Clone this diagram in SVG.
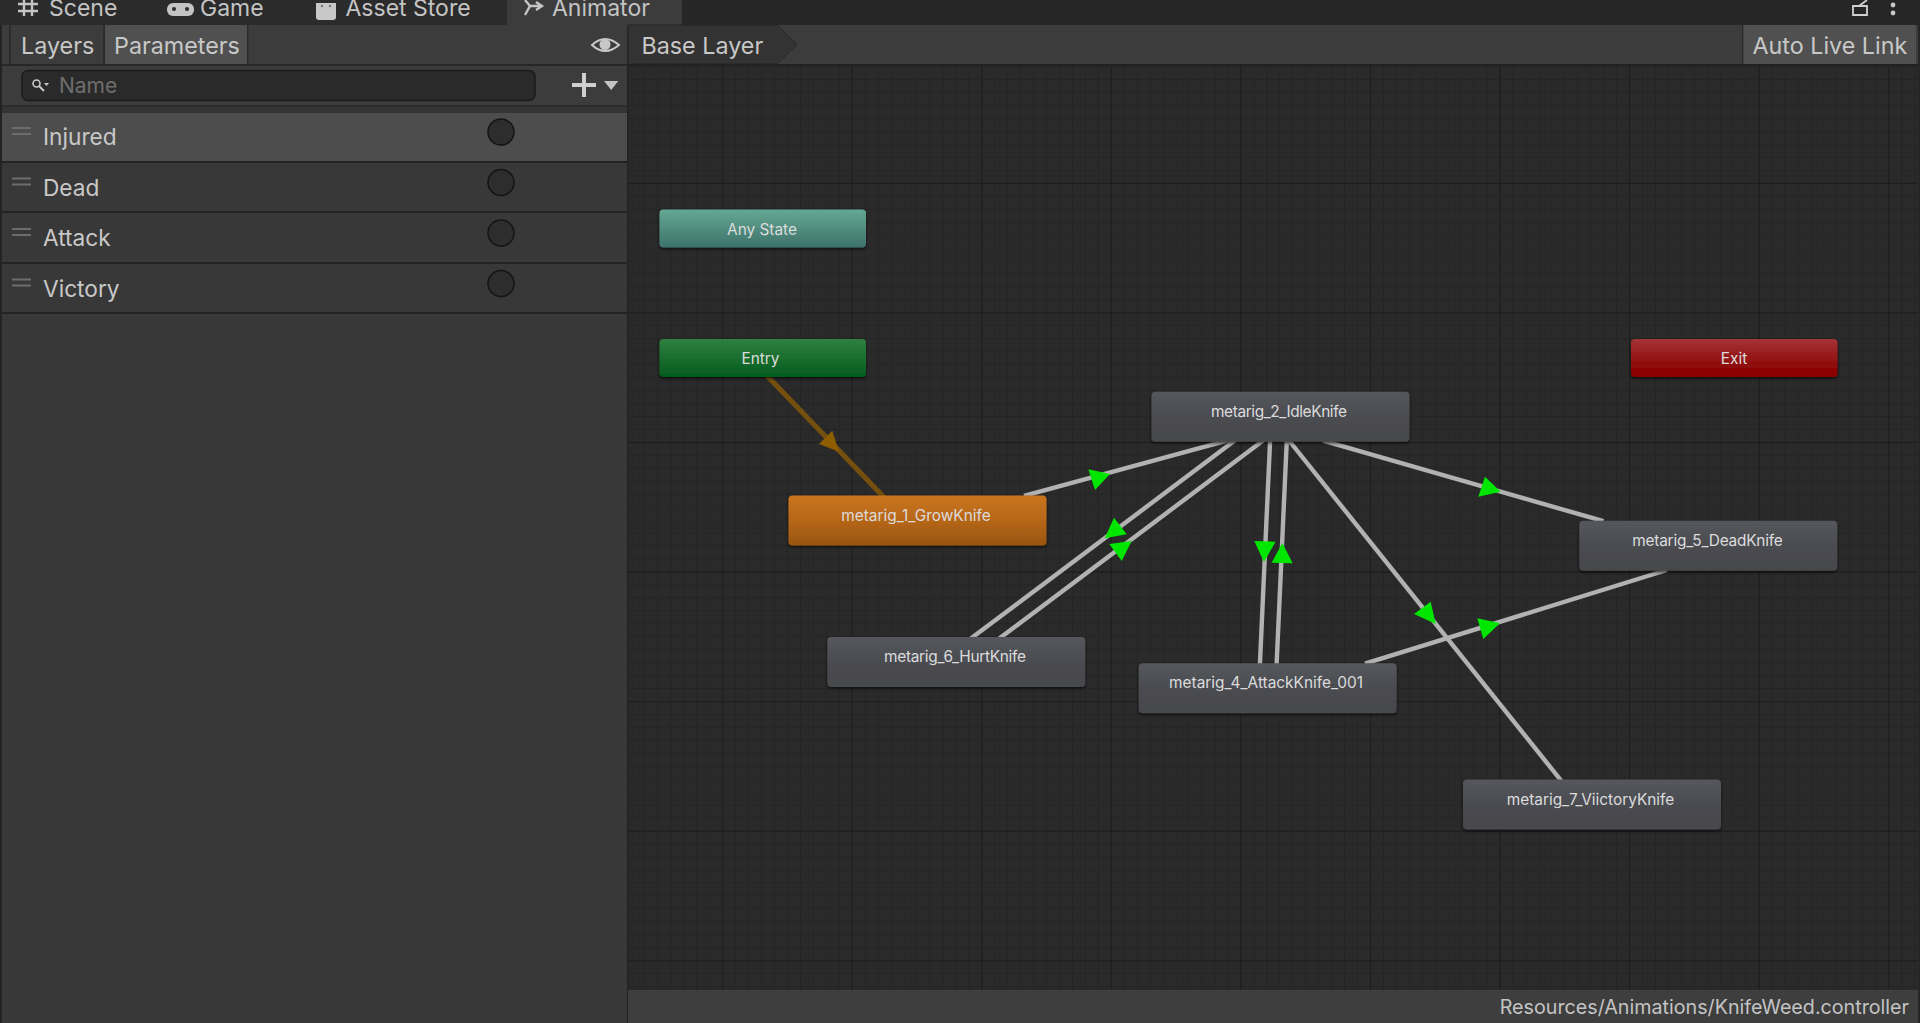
<svg xmlns="http://www.w3.org/2000/svg" width="1920" height="1023" viewBox="0 0 1920 1023">
<style>
text{font-family:Inter,"Noto Sans","Liberation Sans",sans-serif}
.ui{fill:#c8c8c8;font-size:23.3px}
.tab{fill:#c4c4c4;font-size:23px}
.row{fill:#c8c8c8;font-size:22.7px}
.nl{fill:#dcdcdc;font-size:15.4px;text-anchor:middle}
.edge{stroke:#b2b2b2;stroke-width:4.4;fill:none;filter:url(#soft)}
.edge-o{stroke:#75500f;stroke-width:5;fill:none;filter:url(#soft)}
.ah{fill:#00e600}
.hdl{stroke:#6c6c6c;stroke-width:2}
.dot{fill:#2d2d2d;stroke:#141414;stroke-width:1.5}
.sep{fill:#232323}
.ic{stroke:#c4c4c4;fill:none;stroke-width:2.4}
</style>
<defs>
<pattern id="minor" patternUnits="userSpaceOnUse" x="722.2" y="53.2" width="12.955" height="12.955">
<path d="M0 0V12.955M0 0H12.955" stroke="#202020" stroke-width="1" fill="none"/>
</pattern>
<pattern id="major" patternUnits="userSpaceOnUse" x="722.2" y="53.2" width="129.55" height="129.6">
<path d="M0 0V129.6M0 0H129.55" stroke="#191919" stroke-width="1.4" fill="none"/>
</pattern>
<linearGradient id="gN" x1="0" y1="0" x2="0" y2="1"><stop offset="0" stop-color="#55575c"/><stop offset=".55" stop-color="#494b50"/><stop offset="1" stop-color="#46484c"/></linearGradient>
<linearGradient id="gO" x1="0" y1="0" x2="0" y2="1"><stop offset="0" stop-color="#c97420"/><stop offset=".4" stop-color="#bb6a1a"/><stop offset="1" stop-color="#99550f"/></linearGradient>
<linearGradient id="gA" x1="0" y1="0" x2="0" y2="1"><stop offset="0" stop-color="#65a893"/><stop offset="1" stop-color="#3d726b"/></linearGradient>
<linearGradient id="gE" x1="0" y1="0" x2="0" y2="1"><stop offset="0" stop-color="#308040"/><stop offset="1" stop-color="#035c1e"/></linearGradient>
<linearGradient id="gX" x1="0" y1="0" x2="0" y2="1"><stop offset="0" stop-color="#a43436"/><stop offset=".8" stop-color="#8c0404"/><stop offset="1" stop-color="#8a0000"/></linearGradient>
<filter id="sh" x="-5%" y="-15%" width="110%" height="135%"><feDropShadow dx="0" dy="1.5" stdDeviation="1.5" flood-color="#000" flood-opacity=".7"/></filter>
<filter id="soft" filterUnits="userSpaceOnUse" x="600" y="300" width="1300" height="600"><feGaussianBlur stdDeviation="0.6"/></filter>
</defs>

<rect width="1920" height="1023" fill="#272727"/>
<g id="graph-background">
<rect x="628" y="64" width="1292" height="926" fill="#2a2a2a"/>
<rect x="628" y="64" width="1292" height="926" fill="url(#minor)"/>
<rect x="628" y="64" width="1292" height="926" fill="url(#major)"/>
</g>

<g id="tabbar">
<rect x="0" y="0" width="1920" height="25" fill="#262626"/>
<rect x="0" y="0" width="507" height="25" fill="#2b2b2b"/>
<rect x="507" y="0" width="175" height="25" fill="#3c3c3c"/>
<path class="ic" d="M24 0V16M32 0V16M18 4H38M18 11H38" stroke-width="2"/>
<text class="tab" x="49" y="16">Scene</text>
<rect x="167" y="3" width="27" height="13" rx="6" fill="#c4c4c4"/>
<circle cx="174" cy="9" r="2" fill="#2b2b2b"/><circle cx="187" cy="9" r="2" fill="#2b2b2b"/>
<text class="tab" x="200" y="16">Game</text>
<path d="M316 3H336V17Q336 20 333 20H319Q316 20 316 17Z" fill="#c8c8c8"/>
<circle cx="322" cy="6" r="1.200" fill="#777"/><circle cx="330" cy="6" r="1.200" fill="#777"/>
<text class="tab" x="345.500" y="16">Asset Store</text>
<path class="ic" d="M525 15L530 6H542M530 6L525 0M536 2L542 6L536 10" stroke-width="2.2"/>
<text class="tab" x="552" y="16">Animator</text>
<path d="M1853 6H1867V15H1853ZM1859 6L1867 0" stroke="#d0d0d0" stroke-width="1.8" fill="none"/>
<circle cx="1893" cy="5" r="2.400" fill="#c8c8c8"/><circle cx="1893" cy="13" r="2.400" fill="#c8c8c8"/>
</g>

<g id="left-panel">
<rect x="0" y="25" width="2" height="998" fill="#232323"/>
<rect x="2" y="25" width="625" height="998" fill="#383838"/>
<rect x="627" y="25" width="1.500" height="998" fill="#222"/>
<rect x="2" y="25" width="625" height="39" fill="#3c3c3c"/>
<rect x="2" y="64" width="625" height="2" fill="#272727"/>
<rect x="2" y="66" width="625" height="39" fill="#3c3c3c"/>
<rect x="2" y="105" width="625" height="2" fill="#2c2c2c"/>
<rect x="2" y="107" width="625" height="6" fill="#343434"/>
<rect x="9" y="25" width="2" height="39" fill="#2c2c2c"/>
<rect x="103" y="25" width="2" height="39" fill="#2c2c2c"/>
<rect x="105" y="25" width="142" height="39" fill="#505050"/>
<rect x="247" y="25" width="1.500" height="39" fill="#2c2c2c"/>
<text class="ui" x="21" y="53.500">Layers</text>
<text class="ui" x="114" y="53.500">Parameters</text>
<path d="M592 45Q605 33 619 45Q605 57 592 45Z" fill="none" stroke="#c8c8c8" stroke-width="2"/>
<circle cx="605" cy="44.500" r="5.500" fill="#c8c8c8"/>
<rect x="22" y="70.500" width="513" height="30" rx="6" fill="#2a2a2a" stroke="#1b1b1b" stroke-width="1.500"/>
<circle cx="36.500" cy="83.500" r="3.500" fill="none" stroke="#c8c8c8" stroke-width="1.600"/>
<path d="M39 86L44 91" stroke="#c8c8c8" stroke-width="2"/>
<path d="M44 83H49L46.500 86Z" fill="#c8c8c8"/>
<text x="59" y="93" font-size="21" fill="#6e6e6e">Name</text>
<path d="M572 85H596M584 73V97" stroke="#cfcfcf" stroke-width="4" fill="none"/>
<path d="M604 81H618.300L611.200 90Z" fill="#c4c4c4"/>
</g>

<g id="param-injured">
<rect x="2" y="113" width="625" height="48" fill="#4d4d4d"/><rect class="sep" x="2" y="161" width="625" height="2"/>
<path class="hdl" d="M12 128H31M12 134H31"/>
<text class="row" x="43" y="145">Injured</text>
<circle class="dot" cx="501" cy="132" r="13"/>
</g>
<g id="param-dead">
<rect class="sep" x="2" y="211" width="625" height="2"/>
<path class="hdl" d="M12 178.500H31M12 184.500H31"/>
<text class="row" x="43" y="195.500">Dead</text>
<circle class="dot" cx="501" cy="182.500" r="13"/>
</g>
<g id="param-attack">
<rect class="sep" x="2" y="262" width="625" height="2"/>
<path class="hdl" d="M12 229H31M12 235H31"/>
<text class="row" x="43" y="246">Attack</text>
<circle class="dot" cx="501" cy="233" r="13"/>
</g>
<g id="param-victory">
<rect class="sep" x="2" y="312" width="625" height="2"/>
<path class="hdl" d="M12 279.500H31M12 285.500H31"/>
<text class="row" x="43" y="296.500">Victory</text>
<circle class="dot" cx="501" cy="283.500" r="13"/>
</g>

<g id="graph-toolbar">
<rect x="628" y="25" width="1292" height="39" fill="#3c3c3c"/>
<rect x="628" y="64" width="1292" height="2" fill="#212121"/>
<path d="M628 25H777L797 44.500L777 64H628Z" fill="#333" stroke="#272727" stroke-width="1"/>
<text class="ui" x="641.500" y="53.500">Base Layer</text>
<rect x="1742" y="25" width="1.500" height="39" fill="#2a2a2a"/>
<rect x="1743.500" y="25" width="172.500" height="39" fill="#505050"/>
<text class="ui" x="1752.500" y="53.500">Auto Live Link</text>
</g>

<g id="connectors">
<path class="edge-o" d="M764.100 372.700L885.900 499.300"/>
<path d="M832.300 430.700L819 444L839 451.700Z" fill="#8e5d00"/>
<path class="edge" d="M1024 495.800L1228.800 440.100"/>
<path class="ah" d="M1088.300 469.300L1110 474L1095 490Z"/>
<path class="edge" d="M968.500 640.300L1238.100 438.100"/>
<path class="ah" d="M1114 517.700L1126.700 534.300L1104.700 538.300Z"/>
<path class="edge" d="M996.900 640.300L1266.500 438.100"/>
<path class="ah" d="M1131.700 541L1109.300 544L1121.700 561Z"/>
<path class="edge" d="M1270.300 436L1259.700 669"/>
<path class="ah" d="M1254.300 541L1275.700 541.700L1264 562Z"/>
<path class="edge" d="M1287 436L1276.400 669"/>
<path class="ah" d="M1282.300 543L1271.700 562.700L1292.700 563.300Z"/>
<path class="edge" d="M1286.200 437L1563.800 784"/>
<path class="ah" d="M1430.700 601.700L1414 614L1435.700 624Z"/>
<path class="edge" d="M1323 440.700L1603.500 521.200"/>
<path class="ah" d="M1485 476.700L1500.700 491.700L1478.300 496.700Z"/>
<path class="edge" d="M1667 570L1365 663.600"/>
<path class="ah" d="M1477.300 618.300L1500 623.300L1483.300 639Z"/>
</g>

<g id="node-any-state"><rect x="659.500" y="209.500" width="206.500" height="38" rx="4" fill="url(#gA)" filter="url(#sh)"/><text class="nl" x="762" y="234.500">Any State</text></g>
<g id="node-entry"><rect x="659.500" y="339" width="206.500" height="38" rx="4" fill="url(#gE)" filter="url(#sh)"/><text class="nl" x="760.500" y="364">Entry</text></g>
<g id="node-exit"><rect x="1631" y="339" width="206.500" height="38" rx="4" fill="url(#gX)" filter="url(#sh)"/><text class="nl" x="1734" y="364">Exit</text></g>
<g id="node-grow"><rect x="788.500" y="495.500" width="258" height="50" rx="4" fill="url(#gO)" filter="url(#sh)"/><text class="nl" x="916" y="520.700">metarig_1_GrowKnife</text></g>
<g id="node-idle"><rect x="1151.500" y="391.700" width="258" height="50" rx="4" fill="url(#gN)" filter="url(#sh)"/><text class="nl" x="1279" y="416.700" textLength="136">metarig_2_IdleKnife</text></g>
<g id="node-attack"><rect x="1138.700" y="663.300" width="258" height="50" rx="4" fill="url(#gN)" filter="url(#sh)"/><text class="nl" x="1266" y="688.200">metarig_4_AttackKnife_001</text></g>
<g id="node-dead"><rect x="1579.300" y="520.700" width="258" height="50" rx="4" fill="url(#gN)" filter="url(#sh)"/><text class="nl" x="1707.500" y="545.700" textLength="150.500">metarig_5_DeadKnife</text></g>
<g id="node-hurt"><rect x="827.300" y="637" width="258" height="50" rx="4" fill="url(#gN)" filter="url(#sh)"/><text class="nl" x="955" y="662" textLength="142">metarig_6_HurtKnife</text></g>
<g id="node-victory"><rect x="1463" y="779.500" width="258" height="50" rx="4" fill="url(#gN)" filter="url(#sh)"/><text class="nl" x="1590.500" y="804.700">metarig_7_ViictoryKnife</text></g>

<g id="statusbar">
<rect x="628" y="990" width="1292" height="33" fill="#3e3e3e"/>
<rect x="1918" y="25" width="2" height="998" fill="#262626"/>
<text x="1909" y="1014" text-anchor="end" font-size="19.700" fill="#c4c4c4">Resources/Animations/KnifeWeed.controller</text>
</g>
</svg>
